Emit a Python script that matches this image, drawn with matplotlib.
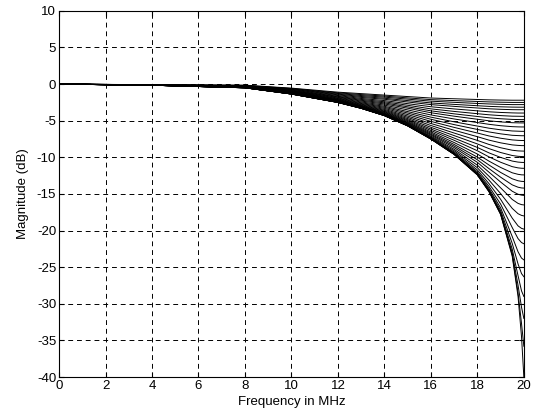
import numpy as np
import matplotlib
matplotlib.use('Agg')
import matplotlib.pyplot as plt

freq_mhz = [0, 4, 8, 10, 12, 13, 14, 15, 16, 17, 18, 18.5, 19, 19.5, 19.75, 19.9, 20]

# magnitude in dB: one row per frequency point, one column per curve (32 curves)
mag_db = [
    [0.0] * 32,
    [-0.08, -0.09, -0.09, -0.09, -0.10, -0.10, -0.11, -0.11, -0.12, -0.12, -0.12, -0.13, -0.13, -0.13, -0.14, -0.14,
     -0.14, -0.14, -0.14, -0.15, -0.15, -0.15, -0.15, -0.15, -0.15, -0.15, -0.15, -0.15, -0.15, -0.15, -0.15, -0.15],
    [-0.15, -0.17, -0.20, -0.22, -0.24, -0.27, -0.29, -0.31, -0.33, -0.35, -0.37, -0.39, -0.40, -0.42, -0.43, -0.44,
     -0.45, -0.46, -0.47, -0.47, -0.48, -0.48, -0.49, -0.49, -0.49, -0.50, -0.50, -0.50, -0.50, -0.50, -0.50, -0.50],
    [-0.55, -0.60, -0.65, -0.71, -0.76, -0.82, -0.87, -0.92, -0.96, -1.00, -1.05, -1.09, -1.12, -1.16, -1.19, -1.21,
     -1.24, -1.26, -1.27, -1.29, -1.30, -1.31, -1.32, -1.33, -1.34, -1.34, -1.35, -1.35, -1.35, -1.35, -1.35, -1.35],
    [-1.10, -1.19, -1.28, -1.37, -1.46, -1.56, -1.66, -1.74, -1.81, -1.90, -1.97, -2.04, -2.11, -2.16, -2.22, -2.26,
     -2.30, -2.34, -2.37, -2.39, -2.41, -2.43, -2.45, -2.46, -2.48, -2.48, -2.49, -2.49, -2.50, -2.50, -2.50, -2.50],
    [-1.30, -1.43, -1.56, -1.69, -1.82, -1.96, -2.09, -2.21, -2.32, -2.44, -2.55, -2.65, -2.74, -2.82, -2.90, -2.96,
     -3.02, -3.07, -3.11, -3.14, -3.17, -3.20, -3.23, -3.25, -3.27, -3.28, -3.29, -3.29, -3.30, -3.30, -3.30, -3.30],
    [-1.50, -1.64, -1.78, -1.93, -2.07, -2.25, -2.41, -2.56, -2.71, -2.87, -3.03, -3.17, -3.31, -3.45, -3.57, -3.68,
     -3.78, -3.86, -3.94, -4.01, -4.06, -4.11, -4.16, -4.20, -4.23, -4.26, -4.27, -4.29, -4.29, -4.30, -4.30, -4.30],
    [-1.70, -1.88, -2.05, -2.25, -2.44, -2.67, -2.89, -3.10, -3.29, -3.52, -3.75, -3.95, -4.16, -4.36, -4.54, -4.71,
     -4.86, -4.99, -5.11, -5.22, -5.30, -5.38, -5.46, -5.53, -5.59, -5.63, -5.66, -5.67, -5.69, -5.69, -5.70, -5.70],
    [-1.90, -2.12, -2.33, -2.57, -2.80, -3.09, -3.38, -3.65, -3.91, -4.21, -4.51, -4.80, -5.09, -5.38, -5.65, -5.90,
     -6.13, -6.33, -6.53, -6.69, -6.84, -6.96, -7.10, -7.21, -7.31, -7.38, -7.43, -7.46, -7.48, -7.49, -7.50, -7.50],
    [-2.00, -2.25, -2.49, -2.77, -3.04, -3.39, -3.73, -4.06, -4.38, -4.76, -5.15, -5.53, -5.91, -6.30, -6.68, -7.03,
     -7.37, -7.67, -7.98, -8.24, -8.46, -8.67, -8.90, -9.09, -9.26, -9.39, -9.47, -9.53, -9.56, -9.58, -9.59, -9.60],
    [-2.10, -2.37, -2.64, -2.95, -3.26, -3.65, -4.04, -4.42, -4.80, -5.25, -5.73, -6.19, -6.68, -7.18, -7.69, -8.17,
     -8.65, -9.10, -9.55, -9.97, -10.33, -10.68, -11.07, -11.42, -11.73, -11.97, -12.14, -12.25, -12.32, -12.37, -12.39, -12.40],
    [-2.15, -2.43, -2.71, -3.04, -3.37, -3.78, -4.19, -4.60, -5.01, -5.49, -6.02, -6.53, -7.08, -7.65, -8.24, -8.81,
     -9.39, -9.94, -10.52, -11.05, -11.54, -12.03, -12.58, -13.11, -13.59, -13.97, -14.25, -14.44, -14.56, -14.63, -14.67, -14.70],
    [-2.18, -2.47, -2.76, -3.10, -3.44, -3.87, -4.30, -4.73, -5.16, -5.68, -6.24, -6.79, -7.39, -8.02, -8.69, -9.34,
     -10.01, -10.67, -11.38, -12.06, -12.71, -13.37, -14.16, -14.95, -15.73, -16.38, -16.90, -17.26, -17.52, -17.67, -17.75, -17.80],
    [-2.20, -2.50, -2.80, -3.14, -3.49, -3.93, -4.38, -4.82, -5.27, -5.81, -6.40, -6.99, -7.62, -8.30, -9.03, -9.75,
     -10.51, -11.27, -12.11, -12.93, -13.76, -14.63, -15.75, -16.97, -18.30, -19.59, -20.82, -21.76, -22.54, -23.04, -23.33, -23.50],
    [-2.20, -2.50, -2.80, -3.15, -3.50, -3.95, -4.39, -4.84, -5.29, -5.84, -6.43, -7.03, -7.68, -8.37, -9.12, -9.86,
     -10.65, -11.44, -12.32, -13.20, -14.08, -15.04, -16.29, -17.70, -19.36, -21.10, -22.90, -24.56, -26.16, -27.47, -28.48, -29.00],
    [-2.20, -2.50, -2.80, -3.15, -3.50, -3.95, -4.40, -4.85, -5.30, -5.85, -6.45, -7.05, -7.70, -8.40, -9.14, -9.89,
     -10.69, -11.49, -12.39, -13.28, -14.18, -15.16, -16.46, -17.93, -19.70, -21.64, -23.76, -25.88, -28.24, -30.47, -32.71, -34.50],
    [-2.20, -2.50, -2.80, -3.15, -3.50, -3.95, -4.40, -4.85, -5.30, -5.85, -6.45, -7.05, -7.70, -8.40, -9.15, -9.90,
     -10.70, -11.50, -12.40, -13.30, -14.20, -15.20, -16.50, -18.00, -19.80, -21.80, -24.00, -26.30, -29.00, -32.00, -35.80, -40.00],
]

x_ticks = list(range(0, 21, 2))
y_ticks = list(range(-40, 11, 5))

plt.rcParams['font.family'] = ['Liberation Sans', 'DejaVu Sans']
plt.rcParams['axes.unicode_minus'] = False

fig = plt.figure(figsize=(5.38, 4.17), dpi=100)
ax = fig.add_axes([0.1097, 0.0959, 0.864, 0.878])

curves = np.array(mag_db).T
for y in curves:
    ax.plot(freq_mhz, y, color='k', lw=0.7)

ax.set_xlim(0, 20)
ax.set_ylim(-40, 10)
ax.set_xticks(x_ticks)
ax.set_yticks(y_ticks)
ax.grid(True, color='k', linestyle=(0, (5, 4)), linewidth=0.7)
ax.tick_params(direction='in', top=True, right=True, labelsize=9.5, pad=2)
for s in ax.spines.values():
    s.set_linewidth(0.8)
ax.set_xlabel('Frequency in MHz', fontsize=9.5, labelpad=3)
ax.set_ylabel('Magnitude (dB)', fontsize=9.5, labelpad=6)

fig.savefig('out.png', dpi=100)
